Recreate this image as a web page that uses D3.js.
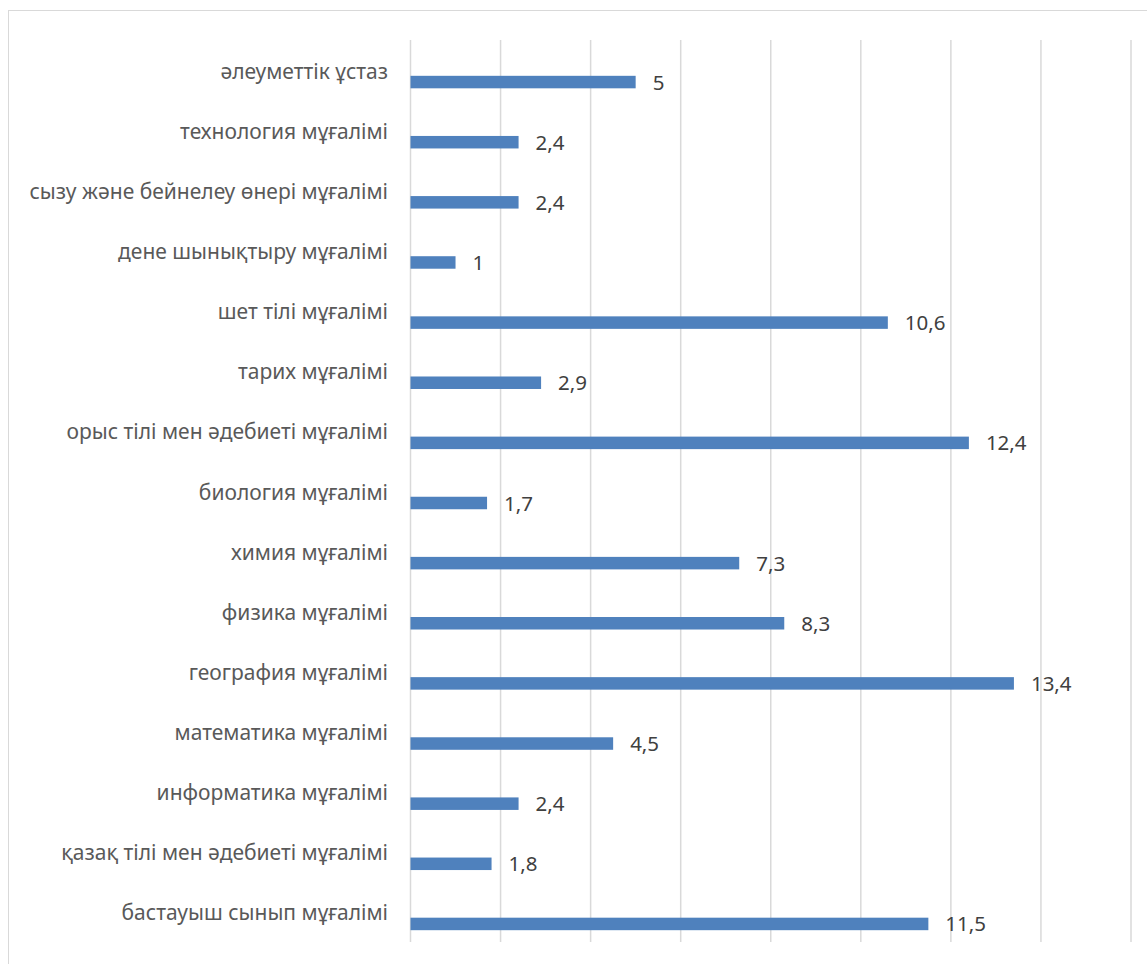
<!DOCTYPE html>
<html>
<head>
<meta charset="utf-8">
<script src="https://cdn.jsdelivr.net/npm/d3@7"></script>
<style>
  html, body { margin: 0; padding: 0; background: #fff; }
  svg { display: block; }
</style>
</head>
<body>
<svg id="chart" width="1147" height="964"></svg>
<script>
const categories = [
  "әлеуметтік ұстаз",
  "технология мұғалімі",
  "сызу және бейнелеу өнері мұғалімі",
  "дене шынықтыру мұғалімі",
  "шет тілі мұғалімі",
  "тарих мұғалімі",
  "орыс тілі мен әдебиеті мұғалімі",
  "биология мұғалімі",
  "химия мұғалімі",
  "физика мұғалімі",
  "география мұғалімі",
  "математика мұғалімі",
  "информатика мұғалімі",
  "қазақ тілі мен әдебиеті мұғалімі",
  "бастауыш сынып мұғалімі"
];
const values = [5, 2.4, 2.4, 1, 10.6, 2.9, 12.4, 1.7, 7.3, 8.3, 13.4, 4.5, 2.4, 1.8, 11.5];
const gridTicks = [0, 2, 4, 6, 8, 10, 12, 14, 16];

const svg = d3.select("#chart");
const font = "'Noto Sans', 'Open Sans', sans-serif";

// chart border
svg.append("rect")
  .attr("x", 8.5).attr("y", 10.5)
  .attr("width", 1150).attr("height", 980)
  .attr("fill", "none").attr("stroke", "#d9d9d9").attr("stroke-width", 1);

const x = d3.scaleLinear().domain([0, 16]).range([410.5, 1131]);
const y = d3.scaleBand().domain(categories).range([40, 942]);

// gridlines
svg.append("g").selectAll("line").data(gridTicks).join("line")
  .attr("x1", d => x(d)).attr("x2", d => x(d))
  .attr("y1", 40).attr("y2", 942)
  .attr("stroke", "#d9d9d9").attr("stroke-width", 1.5);

const barH = 12.5;
const barOff = 12;

svg.append("g").selectAll("rect").data(values).join("rect")
  .attr("x", x(0))
  .attr("y", (d, i) => y(categories[i]) + y.bandwidth() / 2 + barOff - barH / 2)
  .attr("width", d => x(d) - x(0))
  .attr("height", barH)
  .attr("fill", "#4f81bd");

// category labels
svg.append("g").selectAll("text").data(categories).join("text")
  .attr("x", 388)
  .attr("y", d => y(d) + y.bandwidth() / 2 + 8.5)
  .attr("text-anchor", "end")
  .attr("font-family", font)
  .attr("font-size", 21)
  .attr("fill", "#595959")
  .text(d => d);

// value labels
const fmt = v => String(v).replace(".", ",");
svg.append("g").selectAll("text").data(values).join("text")
  .attr("x", d => x(d) + 17)
  .attr("y", (d, i) => y(categories[i]) + y.bandwidth() / 2 + barOff + 7.5)
  .attr("font-family", font)
  .attr("font-size", 20.5)
  .attr("fill", "#404040")
  .text(d => fmt(d));
</script>
</body>
</html>
